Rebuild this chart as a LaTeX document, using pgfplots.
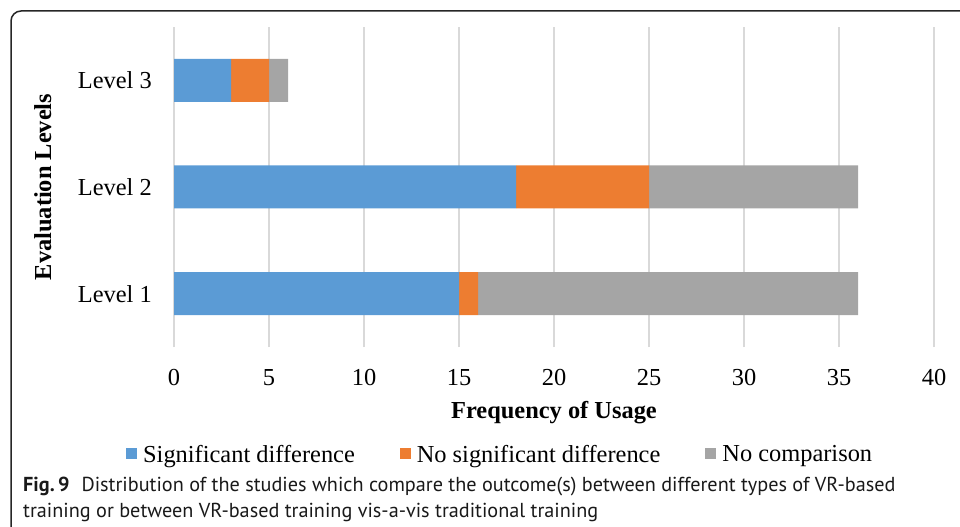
\documentclass[border=0pt]{standalone}
\usepackage{fontspec}
\setmainfont{Liberation Serif}
\newfontfamily\capfont{PT Sans}
\usepackage{pgfplots}
\pgfplotsset{compat=1.18}

\definecolor{sigblue}{HTML}{5B9BD5}
\definecolor{nosigorange}{HTML}{ED7D31}
\definecolor{nocompgray}{HTML}{A5A5A5}
\definecolor{gridgray}{HTML}{D9D9D9}

% small square legend marks, like the Excel original
\pgfplotsset{sqlegend/.style={legend image code/.code={%
    \path[fill=none, draw=none] (0bp,-5.8bp) rectangle (11bp,17bp);
    \fill[##1, draw=none] (0bp,-5bp) rectangle (11bp,6bp);}}}

\begin{document}
\begin{tikzpicture}
\useasboundingbox (0,0) rectangle (960bp,527bp);
% figure frame (right and bottom sides fall outside the crop)
\draw[line width=1.5bp, black!85, rounded corners=10bp] (11bp,-40bp) -- (11bp,516bp) -- (1010bp,516bp);

\begin{axis}[
    at={(174bp,180bp)}, anchor=south west,
    scale only axis, width=760bp, height=320bp,
    xbar stacked, bar width=43bp,
    xmin=0, xmax=40, ymin=0.5, ymax=3.5,
    xtick={0,5,...,40}, ytick={1,2,3},
    yticklabels={Level 1,Level 2,Level 3},
    xmajorgrids, grid style={gridgray, line width=1.3bp},
    axis line style={draw=none}, major tick length=0pt,
    font=\fontsize{24.5}{29}\selectfont,
    /pgf/number format/assume math mode=true,
    xticklabel style={anchor=north, inner sep=0pt, yshift=-22bp},
    yticklabel style={anchor=east, inner sep=0pt, xshift=-22bp},
    xlabel={\textbf{Frequency of Usage}},
    ylabel={\textbf{Evaluation Levels}},
    xlabel style={at={(axis description cs:0.5,0)}, anchor=base, inner sep=0pt, yshift=-71bp},
    ylabel style={at={(axis description cs:-0.1618,0.50)}, anchor=base, inner sep=0pt},
    legend columns=3,
    legend style={draw=none, fill=none, inner sep=0pt, nodes={inner sep=0pt},
        at={(axis description cs:-0.0632,-0.282)}, anchor=north west,
        /tikz/every odd column/.append style={column sep=6bp},
        /tikz/every even column/.append style={column sep=45bp}},
]
\addplot[fill=sigblue, draw=none, sqlegend] coordinates {(15,1) (18,2) (3,3)};
\addlegendentry{Significant difference}
\addplot[fill=nosigorange, draw=none, sqlegend] coordinates {(1,1) (7,2) (2,3)};
\addlegendentry{No significant difference}
\addplot[fill=nocompgray, draw=none, sqlegend] coordinates {(20,1) (11,2) (1,3)};
\addlegendentry{No comparison}
\end{axis}

% caption
\node[anchor=base west, inner sep=0pt, text=black!90, font=\capfont\fontsize{20.3}{24}\selectfont] at (23bp,36bp)
    {\textbf{Fig.\,9}\hspace{12bp}Distribution of the studies which compare the outcome(s) between different types of VR-based};
\node[anchor=base west, inner sep=0pt, text=black!90, font=\capfont\fontsize{20.3}{24}\selectfont] at (23bp,10bp)
    {training or between VR-based training vis-a-vis traditional training};
\end{tikzpicture}
\end{document}
